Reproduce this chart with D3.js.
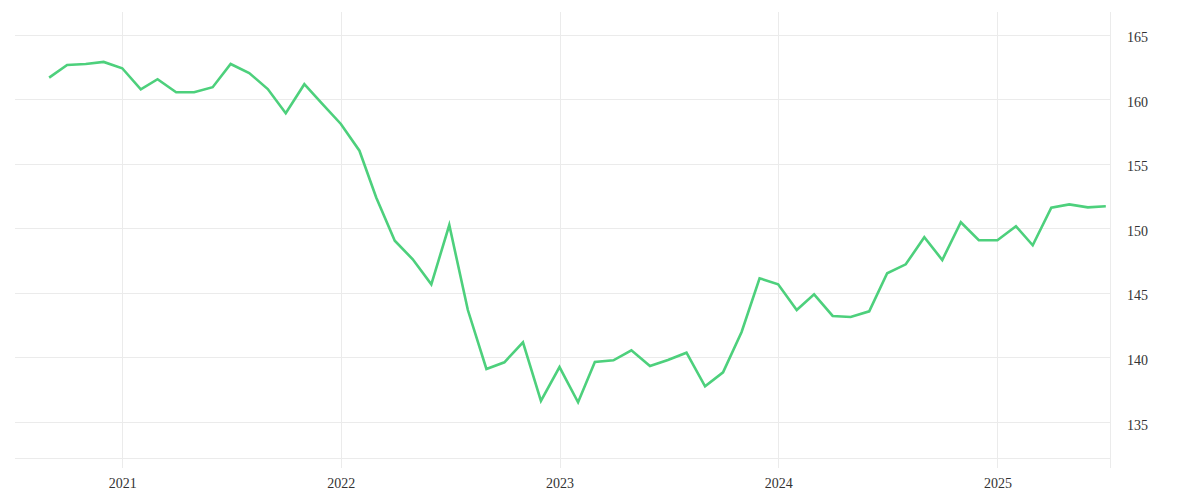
<!DOCTYPE html>
<html>
<head>
<meta charset="utf-8">
<script src="https://cdn.jsdelivr.net/npm/d3@7"></script>
<style>
  html, body { margin: 0; padding: 0; background: #fff; }
  svg { display: block; }
  .tick text { font-family: "Liberation Serif", serif; font-size: 14px; fill: #333; }
</style>
</head>
<body>
<svg id="chart" width="1200" height="500"></svg>
<script>
// Monthly dates (first of month), Sep 2020 .. Jul 2025
const months = [
  "2020-09","2020-10","2020-11","2020-12",
  "2021-01","2021-02","2021-03","2021-04","2021-05","2021-06","2021-07","2021-08","2021-09","2021-10","2021-11","2021-12",
  "2022-01","2022-02","2022-03","2022-04","2022-05","2022-06","2022-07","2022-08","2022-09","2022-10","2022-11","2022-12",
  "2023-01","2023-02","2023-03","2023-04","2023-05","2023-06","2023-07","2023-08","2023-09","2023-10","2023-11","2023-12",
  "2024-01","2024-02","2024-03","2024-04","2024-05","2024-06","2024-07","2024-08","2024-09","2024-10","2024-11","2024-12",
  "2025-01","2025-02","2025-03","2025-04","2025-05","2025-06","2025-07"
];
const values = [
  161.69, 162.67, 162.75, 162.91,
  162.42, 160.79, 161.57, 160.56, 160.56, 160.95, 162.75, 162.05, 160.81, 158.93, 161.18, 159.65,
  158.10, 156.03, 152.40, 149.05, 147.61, 145.67, 150.27, 143.68, 139.11, 139.63, 141.18, 136.63,
  139.26, 136.53, 139.65, 139.78, 140.56, 139.34, 139.81, 140.37, 137.77, 138.85, 141.98, 146.14,
  145.67, 143.68, 144.90, 143.22, 143.14, 143.58, 146.53, 147.22, 149.32, 147.56, 150.48, 149.09,
  149.09, 150.17, 148.70, 151.61, 151.87, 151.64, 151.72
];
const yTicks = [135, 140, 145, 150, 155, 160, 165];
const xTickYears = ["2021", "2022", "2023", "2024", "2025"];

const parse = d3.timeParse("%Y-%m");
const data = months.map((m, i) => ({ date: parse(m), value: values[i] }));

const svg = d3.select("#chart");
const mLeft = 15, mRight = 1110, mTop = 12, mBottom = 458;

const x = d3.scaleTime()
  .domain([new Date(2020, 6, 6), new Date(2025, 6, 8)])
  .range([mLeft, mRight]);
const y = d3.scaleLinear()
  .domain([132.21, 166.78])
  .range([mBottom, mTop]);

const grid = "#ebebeb";

// horizontal grid lines
svg.append("g")
  .selectAll("line")
  .data(yTicks)
  .join("line")
  .attr("x1", mLeft).attr("x2", mRight)
  .attr("y1", d => Math.round(y(d)) + 0.5)
  .attr("y2", d => Math.round(y(d)) + 0.5)
  .attr("stroke", grid).attr("stroke-width", 1);

// bottom frame line
svg.append("line")
  .attr("x1", mLeft).attr("x2", mRight)
  .attr("y1", mBottom + 0.5).attr("y2", mBottom + 0.5)
  .attr("stroke", grid);

// vertical year grid lines
const yearDates = xTickYears.map(s => new Date(+s, 0, 1));
svg.append("g")
  .selectAll("line")
  .data(yearDates)
  .join("line")
  .attr("x1", d => Math.round(x(d)) + 0.5)
  .attr("x2", d => Math.round(x(d)) + 0.5)
  .attr("y1", mTop).attr("y2", mBottom + 10)
  .attr("stroke", grid);

// right vertical line
svg.append("line")
  .attr("x1", mRight + 0.5).attr("x2", mRight + 0.5)
  .attr("y1", mTop).attr("y2", mBottom + 10)
  .attr("stroke", grid);

// x axis labels
const xAxis = d3.axisBottom(x)
  .tickValues(yearDates)
  .tickFormat(d3.timeFormat("%Y"))
  .tickSize(0)
  .tickPadding(20);
const gx = svg.append("g")
  .attr("transform", `translate(0,${mBottom})`)
  .call(xAxis);
gx.select(".domain").remove();

// y axis labels on the right
const yAxis = d3.axisRight(y)
  .tickValues(yTicks)
  .tickFormat(d3.format("d"))
  .tickSize(0)
  .tickPadding(17);
const gy = svg.append("g")
  .attr("transform", `translate(${mRight},0)`)
  .call(yAxis);
gy.select(".domain").remove();
gy.selectAll("text").attr("dy", "0.5em");

// line
const line = d3.line()
  .x(d => x(d.date))
  .y(d => y(d.value));
svg.append("path")
  .datum(data)
  .attr("fill", "none")
  .attr("stroke", "#4dd07c")
  .attr("stroke-width", 2.6)
  .attr("stroke-linejoin", "miter")
  .attr("d", line);
</script>
</body>
</html>
